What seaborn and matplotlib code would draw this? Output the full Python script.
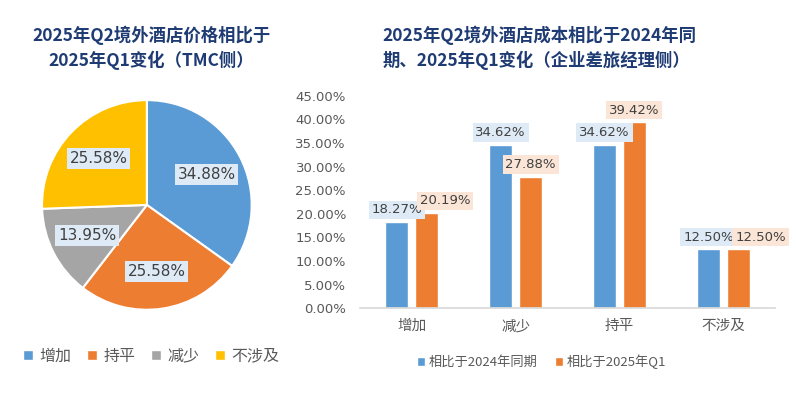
import matplotlib
matplotlib.use("Agg")
import matplotlib.pyplot as plt
from matplotlib.patches import Patch
import numpy as np
import pandas as pd
import seaborn as sns

# ---------------------------------------------------------------------------
# data
# ---------------------------------------------------------------------------
pie_labels = ["增加", "持平", "减少", "不涉及"]
pie_values = [34.88, 25.58, 13.95, 25.58]

bar_cats = ["增加", "减少", "持平", "不涉及"]
vs_2024 = [18.27, 34.62, 34.62, 12.50]
vs_q1 = [20.19, 27.88, 39.42, 12.50]
series_names = ["相比于2024年同期", "相比于2025年Q1"]

left_title = "2025年Q2境外酒店价格相比于\n2025年Q1变化（TMC侧）"
right_title = "2025年Q2境外酒店成本相比于2024年同\n期、2025年Q1变化（企业差旅经理侧）"

# ---------------------------------------------------------------------------
# style
# ---------------------------------------------------------------------------
sns.set_theme(style="white")
plt.rcParams["font.family"] = ["DejaVu Sans", "Noto Sans CJK SC"]

pie_colors = ["#5B9BD5", "#ED7D31", "#A5A5A5", "#FFC000"]
bar_colors = ["#5B9BD5", "#ED7D31"]
label_bg = ["#DEEBF7", "#FBE5D6"]
title_color = "#1F3B73"
text_gray = "#595959"
cjk = ["Noto Sans CJK SC", "DejaVu Sans"]

fig = plt.figure(figsize=(7.96, 3.96), dpi=100)

# ---- 1. pie ---------------------------------------------------------------
ax1 = fig.add_axes([0.0515, 0.215, 0.266, 0.535])
wedges, _, autotexts = ax1.pie(
    pie_values,
    colors=pie_colors,
    startangle=90,
    counterclock=False,
    autopct=lambda p: f"{p:.2f}%",
    pctdistance=0.64,
    wedgeprops=dict(edgecolor="white", linewidth=1.5),
    textprops=dict(fontsize=11, color="#404040"),
)
for t in autotexts:
    t.set_bbox(dict(facecolor="#DEEBF7", edgecolor="none", pad=2))
ax1.set_xlim(-1.01, 1.01)
ax1.set_ylim(-1.01, 1.01)
ax1.set_aspect("equal")

fig.legend(
    handles=[Patch(facecolor=c, label=l) for c, l in zip(pie_colors, pie_labels)],
    loc="center", bbox_to_anchor=(0.19, 0.101), ncol=4, frameon=False,
    handlelength=0.6, handleheight=0.6, handletextpad=0.4, columnspacing=1.0,
    prop=dict(family=cjk, size=11.5), labelcolor=text_gray,
)

fig.text(0.19, 0.88, left_title, ha="center", va="center", multialignment="center",
         fontsize=12.5, fontweight="bold", color=title_color, family=cjk,
         linespacing=1.35)

# ---- 2. grouped bars ------------------------------------------------------
df = pd.DataFrame({
    "cat": bar_cats * 2,
    "series": [series_names[0]] * len(bar_cats) + [series_names[1]] * len(bar_cats),
    "val": [v / 100 for v in vs_2024 + vs_q1],
})

ax2 = fig.add_axes([0.452, 0.222, 0.522, 0.536])
sns.barplot(data=df, x="cat", y="val", hue="series", palette=bar_colors,
            width=0.577, gap=0.236, saturation=1, ax=ax2, legend=False)

ax2.set_ylim(0, 0.45)
ax2.set_xlim(-0.5, 3.5)
ax2.set_yticks(np.arange(0, 0.451, 0.05))
ax2.set_yticklabels([f"{v * 100:.2f}%" for v in np.arange(0, 0.451, 0.05)])
ax2.set_xlabel("")
ax2.set_ylabel("")
ax2.tick_params(axis="y", labelsize=9.5, colors=text_gray, length=0, pad=10)
ax2.tick_params(axis="x", labelsize=10.5, colors=text_gray, length=0, pad=8)
for lab in ax2.get_xticklabels():
    lab.set_family(cjk)
for s in ["left", "right", "top"]:
    ax2.spines[s].set_visible(False)
ax2.spines["bottom"].set_color("#D9D9D9")

# value labels; a few orange ones were nudged right in the original
nudge = [[0, 0, 0, 0], [13, 0, 0, 16]]
for k, (cont, vals) in enumerate(zip(ax2.containers, [vs_2024, vs_q1])):
    anns = ax2.bar_label(cont, labels=[f"{v:.2f}%" for v in vals], padding=4,
                         fontsize=9.5, color="#404040",
                         bbox=dict(facecolor=label_bg[k], edgecolor="none", pad=2))
    for a, dx in zip(anns, nudge[k]):
        a.xyann = (dx, 4)

fig.legend(
    handles=[Patch(facecolor=c, label=l) for c, l in zip(bar_colors, series_names)],
    loc="center", bbox_to_anchor=(0.68, 0.086), ncol=2, frameon=False,
    handlelength=0.6, handleheight=0.6, handletextpad=0.3, columnspacing=1.3,
    prop=dict(family=cjk, size=9.5), labelcolor=text_gray,
)

fig.text(0.481, 0.88, right_title, ha="left", va="center", multialignment="left",
         fontsize=12.5, fontweight="bold", color=title_color, family=cjk,
         linespacing=1.35)

fig.savefig("out.png", dpi=100, facecolor="white")
